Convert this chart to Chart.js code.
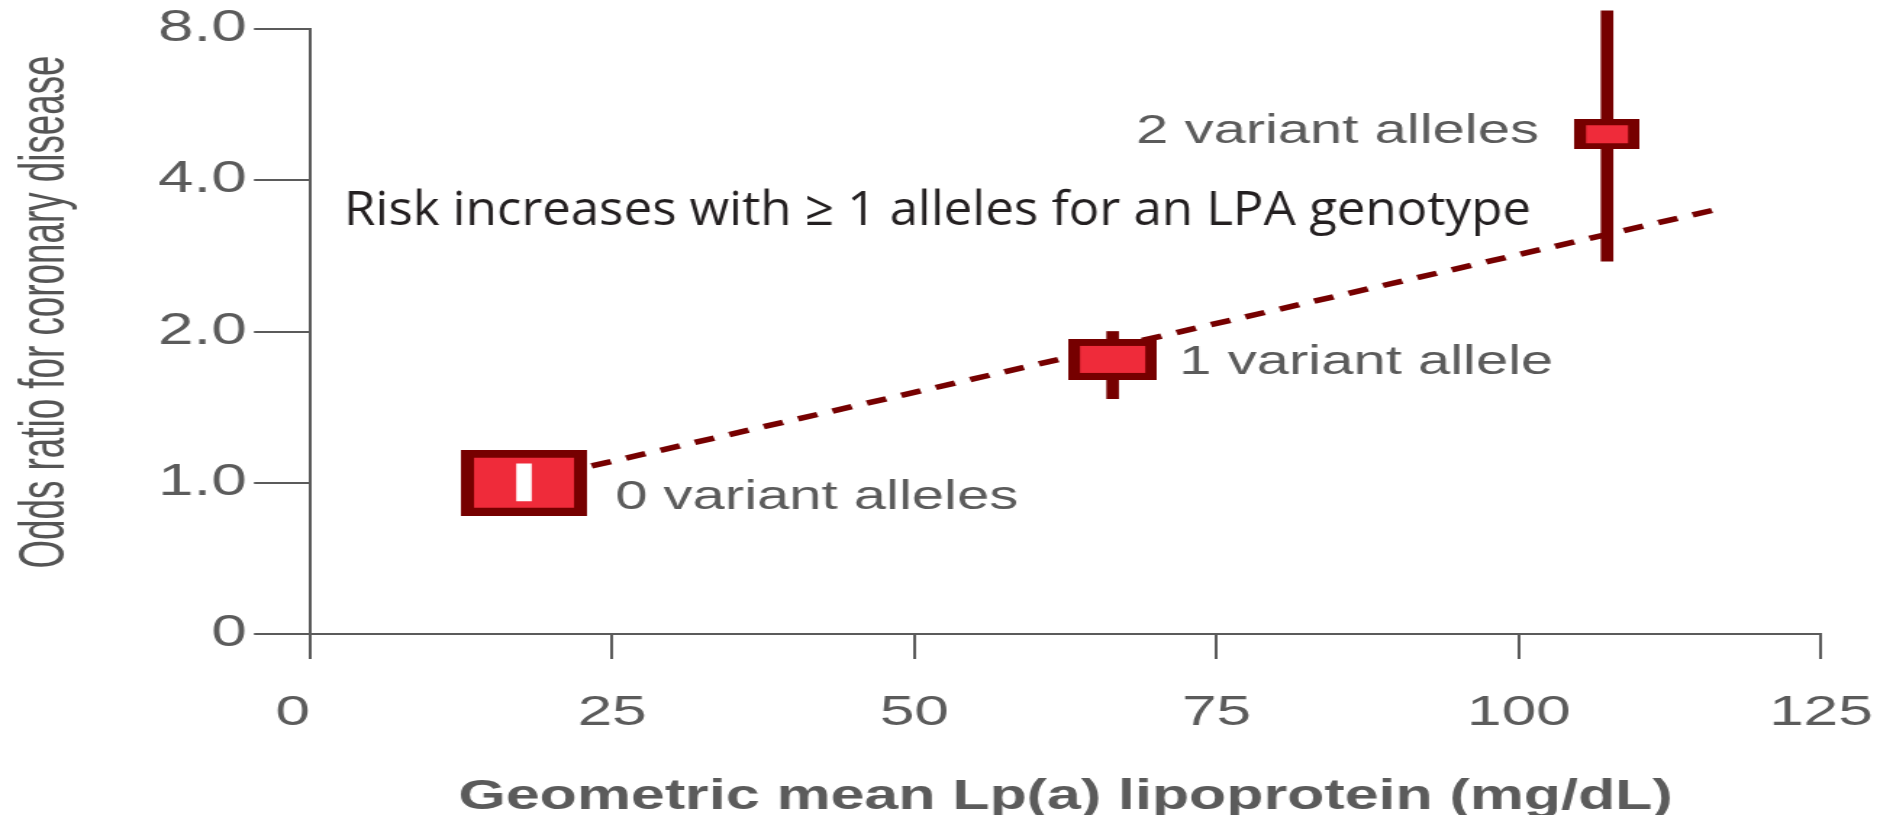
<!DOCTYPE html>
<html>
<head>
<meta charset="utf-8">
<script src="https://cdn.jsdelivr.net/npm/chart.js@4/dist/chart.umd.min.js"></script>
<style>
  html, body { margin: 0; padding: 0; background: #fff; overflow: hidden; width: 1893px; height: 815px; }
  /* the figure is drawn on a narrower canvas and widened horizontally */
  #wrap { position: absolute; left: 0; top: 0; width: 1306px; height: 815px;
          transform: scaleX(1.449464); transform-origin: 0 0; }
  canvas { display: block; }
</style>
</head>
<body>
<div id="wrap"><canvas id="chart" width="1306" height="815"></canvas></div>
<script>
// Lp(a) lipoprotein level and coronary risk by number of LPA variant alleles
const groupLabels = ['0 variant alleles', '1 variant allele', '2 variant alleles'];
const lpaMean   = [17.7, 66.4, 107.3];   // geometric mean Lp(a), mg/dL
const oddsRatio = [1.0, 1.76, 4.94];
const ciLow     = [0.92, 1.47, 2.76];
const ciHigh    = [1.09, 2.0, 8.69];
const trendLpa  = [23.3, 116.6];
const trendOR   = [1.08, 3.51];
const xTickValues = [0, 25, 50, 75, 100, 125];
const xTickLabels = ['0', '25', '50', '75', '100', '125'];
const yTickValues = [0.5, 1, 2, 4, 8];
const yTickLabels = ['0', '1.0', '2.0', '4.0', '8.0'];
const yTitle = 'Odds ratio for coronary disease';
const xTitle = 'Geometric mean Lp(a) lipoprotein (mg/dL)';
const noteText = 'Risk increases with \u2265 1 alleles for an LPA genotype';

// ---- styling ----
const W = 1306, H = 815, SX = 1893 / W;
const DARK = '#760000', RED = '#ef2b3a', GREY = '#5b5b5b', INK = '#231f20';
const FONT = '"Liberation Sans", Arial, Helvetica, sans-serif';
// plot frame in page pixels
const FRAME = { left: 310, right: 1821, top: 29, bottom: 634 };
// box width, height, side border, top/bottom border (canvas px)
const boxStyle = [[87, 66, 9, 8], [61, 41, 8, 7], [45, 30, 8, 6]];
// label offset from its box centre: dx, dy, alignment
const labelStyle = [[63, 15, 'left'], [46, 4, 'left'], [-47, -2, 'right']];

Chart.defaults.font.family = FONT;

function boxImage([w, h, bx, by]) {
  const c = document.createElement('canvas');
  c.width = w; c.height = h;
  const g = c.getContext('2d');
  g.fillStyle = DARK;
  g.fillRect(0, 0, w, h);
  g.fillStyle = RED;
  g.fillRect(bx, by, w - 2 * bx, h - 2 * by);
  return c;
}
const boxImages = boxStyle.map(boxImage);

const points = lpaMean.map((x, i) => ({ x, y: oddsRatio[i] }));
const intervals = lpaMean.map((x, i) => ({ x, y: [ciLow[i], ciHigh[i]] }));

const textLayer = {
  id: 'textLayer',
  afterDraw(chart) {
    const { ctx } = chart;
    const xs = chart.scales.x, ys = chart.scales.y;
    ctx.save();
    ctx.textBaseline = 'middle';

    // group labels next to each box
    ctx.fillStyle = GREY;
    ctx.font = '40px ' + FONT;
    groupLabels.forEach((t, i) => {
      const [dx, dy, align] = labelStyle[i];
      ctx.textAlign = align;
      ctx.fillText(t, xs.getPixelForValue(lpaMean[i]) + dx, ys.getPixelForValue(oddsRatio[i]) + dy);
    });

    // vertical axis title, set condensed to span 513 px
    ctx.save();
    ctx.font = '45px ' + FONT;
    const ky = 513 / ctx.measureText(yTitle).width;
    ctx.translate(32, 312);
    ctx.rotate(-Math.PI / 2);
    ctx.scale(ky, 1);
    ctx.textAlign = 'center';
    ctx.fillStyle = '#555555';
    ctx.fillText(yTitle, 0, 0);
    ctx.restore();

    // headline note, drawn without the horizontal widening
    ctx.save();
    ctx.font = '400 48px "Open Sans", Lato, sans-serif';
    const k = 1187 / ctx.measureText(noteText).width;
    ctx.translate(344 / SX, 211);
    ctx.scale(k / SX, 1);
    ctx.textAlign = 'left';
    ctx.fillStyle = INK;
    ctx.fillText(noteText, 0, 0);
    ctx.restore();

    ctx.restore();
  }
};

new Chart(document.getElementById('chart'), {
  type: 'scatter',
  data: {
    datasets: [
      {
        type: 'line',
        data: trendLpa.map((x, i) => ({ x, y: trendOR[i] })),
        borderColor: DARK,
        borderWidth: 5.5,
        borderDash: [14, 11],
        pointRadius: 0,
        fill: false,
        clip: false,
        order: 4
      },
      {
        type: 'bar',
        data: intervals.filter((_, i) => i > 0),
        backgroundColor: DARK,
        borderWidth: 0,
        barThickness: 8,
        grouped: false,
        clip: false,
        order: 3
      },
      {
        type: 'scatter',
        data: points,
        pointStyle: boxImages,
        pointRadius: 10,
        clip: false,
        order: 2
      },
      {
        type: 'bar',
        data: intervals.filter((_, i) => i === 0),
        backgroundColor: '#ffffff',
        borderWidth: 0,
        barThickness: 10,
        grouped: false,
        order: 1
      }
    ]
  },
  options: {
    responsive: false,
    animation: false,
    devicePixelRatio: 1,
    events: [],
    layout: { padding: { top: FRAME.top, right: W - FRAME.right / SX, bottom: 0, left: 0 } },
    plugins: { legend: { display: false }, tooltip: { enabled: false } },
    scales: {
      x: {
        type: 'linear',
        min: 0,
        max: 125,
        offset: false,
        afterBuildTicks: s => { s.ticks = xTickValues.map(v => ({ value: v })); },
        afterFit: s => {
          s.height = H - FRAME.bottom;
          s.paddingLeft = 0;
          s.paddingRight = W - FRAME.right / SX;
        },
        grid: { drawOnChartArea: false, drawTicks: true, tickLength: 25, color: GREY, lineWidth: 2, offset: false },
        border: { display: true, color: GREY, width: 2 },
        ticks: {
          color: GREY,
          font: { size: 43 },
          padding: 28,
          maxRotation: 0,
          autoSkip: false,
          callback: (v, i) => (i === 0 ? xTickLabels[i] + '  ' : xTickLabels[i])
        },
        title: {
          display: true,
          text: xTitle,
          color: GREY,
          font: { size: 42, weight: 'bold', lineHeight: 0.8 },
          padding: { top: 0, bottom: 1 }
        }
      },
      y: {
        type: 'logarithmic',
        min: 0.5,
        max: 8,
        afterBuildTicks: s => { s.ticks = yTickValues.map(v => ({ value: v })); },
        afterFit: s => {
          s.width = FRAME.left / SX;
          s.paddingTop = FRAME.top;
          s.paddingBottom = 0;
        },
        grid: { drawOnChartArea: false, drawTicks: true, tickLength: 56 / SX, color: GREY, lineWidth: 2 },
        border: { display: true, color: GREY, width: 2 },
        ticks: {
          color: GREY,
          font: { size: 44 },
          padding: 5,
          autoSkip: false,
          callback: (v, i) => yTickLabels[i]
        }
      }
    }
  },
  plugins: [textLayer]
});
</script>
</body>
</html>
